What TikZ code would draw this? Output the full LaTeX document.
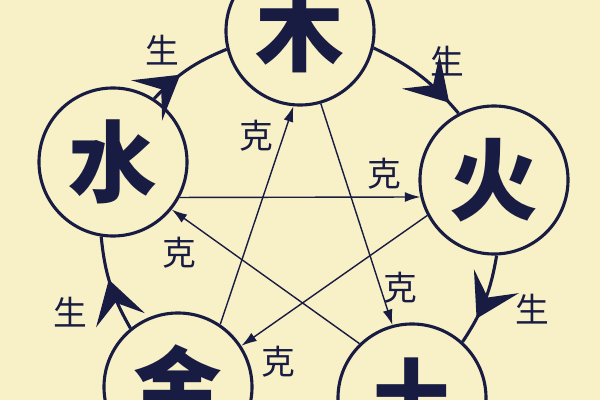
\documentclass[tikz,border=0pt]{standalone}
\usepackage{fontspec}
\newfontfamily\cjk{Noto Sans CJK SC}
\usetikzlibrary{arrows.meta, decorations.markings}
\definecolor{paper}{RGB}{248,240,199}
\definecolor{ink}{RGB}{24,27,66}

\begin{document}
\begin{tikzpicture}[x=0.025cm, y=-0.025cm,
    element/.style = {circle, draw=ink, line width=2.2pt, minimum size=3.7cm, inner sep=0pt, text=ink,
                      font=\cjk\bfseries\fontsize{63pt}{63pt}\selectfont},
    tag/.style = {text=ink, inner sep=2pt, font=\cjk\fontsize{24pt}{24pt}\selectfont},
    restrain/.style = {-{Latex[length=11pt, width=7pt]}, draw=ink, line width=1pt},
    generate/.style = {draw=ink, line width=2.2pt, bend left=12,
                       postaction={decorate, decoration={markings,
                         mark=at position #1 with {\arrow{Stealth[length=30pt, width=36pt, inset=13pt]}}}}}]
  % Page.
  \useasboundingbox (0, 0) rectangle (600, 400);
  \clip (0, 0) rectangle (600, 400);
  \fill [paper] (0, 0) rectangle (600, 400);

  % Elements.
  \node at (300, 31) [element, name=Wood] {木};
  \node at (494, 180) [element, name=Fire] {火};
  \node at (412, 398) [element, name=Earth] {土};
  \node at (178, 387) [element, name=Metal] {金};
  \node at (113, 162) [element, name=Water] {水};

  % Generating cycle.
  \draw [generate=0.4] (Water.57)
             to node [tag, pos=0.5, above left, xshift=-3pt] {生}
             (Wood.194);
  \draw [generate=0.87] (Wood.347)
             to node [tag, pos=0.64, above right, yshift=3pt, xshift=-3pt] {生}
             (Fire.118);
  \draw [generate=0.71] (Fire.272)
             to node [tag, pos=0.6, right, xshift=21pt] {生}
             (Earth.48);
  \draw [generate=0.55] (Metal.129)
             to node [tag, pos=0.4, below left, xshift=-15pt] {生}
             (Water.261);

  % Restraining star.
  \draw [restrain] (Water.332)
             to node [tag, pos=0.85, above, yshift=3pt] {克}
             (Fire.193);
  \draw [restrain] (Metal.56)
             to node [tag, pos=0.865, left, xshift=-5pt] {克}
             (Wood.265);
  \draw [restrain] (Wood.286)
             to node [tag, pos=0.83, right] {克}
             (Earth.105);
  \draw [restrain] (Earth.134)
             to node [tag, pos=0.85, below left, yshift=-3pt] {克}
             (Water.321);
  \draw [restrain] (Fire.208)
             to node [tag, pos=0.91, below right, yshift=-6pt] {克}
             (Metal.33);
\end{tikzpicture}
\end{document}
